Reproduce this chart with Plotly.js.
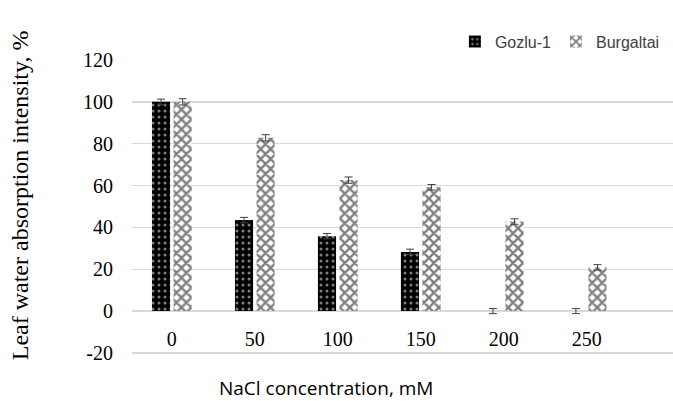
<!DOCTYPE html>
<html>
<head>
<meta charset="utf-8">
<script src="https://cdn.plot.ly/plotly-3.0.1.min.js"></script>
<style>html,body{margin:0;padding:0;background:#fff;}#chart{width:673px;height:401px;}</style>
</head>
<body>
<div id="chart"></div>
<script>
const categories = ["0", "50", "100", "150", "200", "250"];
const gozlu = [100, 43.5, 35.8, 28.3, 0, 0];
const gozluErr = [1.3, 1.3, 1.3, 1.3, 1.2, 1.2];
const burgaltai = [100, 82.8, 62.6, 59.2, 42.8, 20.9];
const burgaltaiErr = [1.5, 1.5, 1.5, 1.3, 1.3, 1.3];
const seriesNames = ["Gozlu-1", "Burgaltai"];
const yTicks = [-20, 0, 20, 40, 60, 80, 100, 120];

const errStyle = {type: 'data', visible: true, color: '#404040', thickness: 1, width: 4};

const traces = [
  {
    type: 'bar', name: seriesNames[0], x: categories, y: gozlu,
    error_y: Object.assign({array: gozluErr}, errStyle),
    marker: {color: '#000000', line: {width: 0},
      pattern: {shape: '.', bgcolor: '#000000', fgcolor: '#ffffff', fillmode: 'overlay', size: 6, solidity: 0.2}}
  },
  {
    type: 'bar', name: seriesNames[1], x: categories, y: burgaltai,
    error_y: Object.assign({array: burgaltaiErr}, errStyle),
    marker: {color: '#ffffff', line: {width: 0},
      pattern: {shape: 'x', bgcolor: '#ffffff', fgcolor: '#000000', fillmode: 'overlay', size: 7, solidity: 0.55}}
  }
];

const layout = {
  width: 673, height: 401,
  margin: {l: 132, r: 0, t: 60, b: 47, pad: 0, autoexpand: false},
  paper_bgcolor: '#ffffff', plot_bgcolor: '#ffffff',
  barmode: 'group', bargap: 0.48, bargroupgap: 0.16,
  showlegend: true,
  legend: {orientation: 'h', x: 0.985, xanchor: 'right', y: 1.12, yanchor: 'top',
    font: {family: 'Liberation Sans, Arial, sans-serif', size: 16, color: '#404040'},
    bgcolor: 'rgba(255,255,255,0)', itemwidth: 30, traceorder: 'normal'},
  xaxis: {type: 'category', range: [-0.48, 6.04], anchor: 'free', position: 20.5/140.5,
    showgrid: false, showline: false, zeroline: false, ticks: '', automargin: false,
    ticklabelstandoff: 14,
    tickfont: {family: 'Liberation Serif, Times New Roman, serif', size: 20, color: '#000000'}},
  yaxis: {range: [-20.5, 120], tickvals: yTicks, ticktext: yTicks.map(String), automargin: false,
    showgrid: true, gridcolor: '#d9d9d9', gridwidth: 1.5, zeroline: true, zerolinecolor: '#d9d9d9', zerolinewidth: 1.5,
    showline: false, ticks: '', ticklabelstandoff: 18,
    tickfont: {family: 'Liberation Serif, Times New Roman, serif', size: 20, color: '#000000'}},
  shapes: [
    {type: 'rect', xref: 'paper', yref: 'y', x0: 0.625, x1: 1, y0: 118, y1: 122,
      fillcolor: '#ffffff', line: {width: 0}, layer: 'between'}
  ],
  annotations: [
    {text: 'NaCl concentration, mM', xref: 'paper', yref: 'paper', x: 0.358, y: -0.115,
      xanchor: 'center', yanchor: 'middle', showarrow: false,
      font: {family: 'Open Sans, Liberation Sans, sans-serif', size: 19, color: '#000000'}},
    {text: 'Leaf water absorption intensity, %', xref: 'paper', yref: 'paper', x: -0.207, y: 0.54,
      xanchor: 'center', yanchor: 'middle', textangle: -90, showarrow: false,
      font: {family: 'Liberation Serif, Times New Roman, serif', size: 24, color: '#000000'}}
  ]
};

Plotly.newPlot('chart', traces, layout, {displayModeBar: false, staticPlot: true});
</script>
</body>
</html>
